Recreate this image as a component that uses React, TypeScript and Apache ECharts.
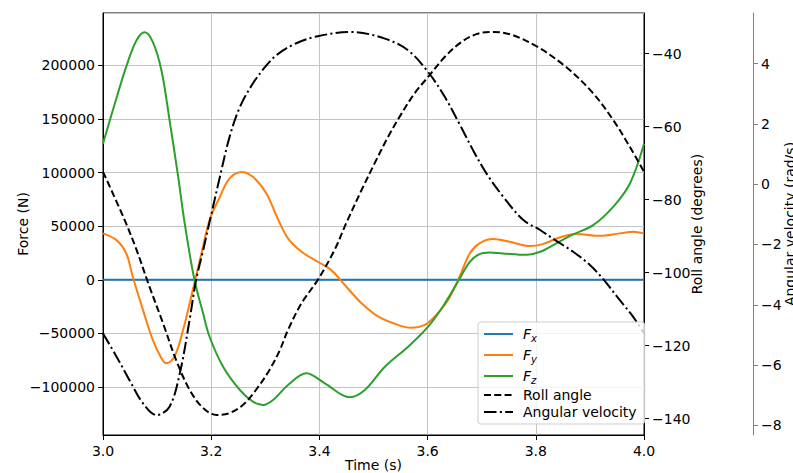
import React, { useEffect, useRef } from "react";
import * as echarts from "echarts";

// ---- Data ----
const fxTime = [3.0, 4.0];
const fxValues = [0, 0];

const fyTime = [3.0, 3.025, 3.043, 3.055, 3.074, 3.092, 3.108, 3.117, 3.132, 3.148, 3.166, 3.182, 3.197, 3.216, 3.234, 3.256, 3.277, 3.302, 3.322, 3.342, 3.367, 3.397, 3.422, 3.447, 3.478, 3.509, 3.546, 3.57, 3.594, 3.613, 3.638, 3.659, 3.678, 3.696, 3.721, 3.752, 3.789, 3.813, 3.844, 3.875, 3.918, 3.955, 3.98, 4.0];
const fyValues = [43300, 37000, 24600, 2800, -28300, -56200, -73300, -78000, -71800, -46900, -9600, 24600, 55700, 77400, 94600, 100700, 96100, 80600, 58000, 38600, 26100, 16800, 9000, -4900, -22000, -34500, -42300, -44800, -42300, -34500, -18900, 2800, 24600, 34000, 38000, 35400, 31400, 33300, 39500, 42600, 41000, 43300, 44800, 43300];

const fzTime = [3.0, 3.018, 3.043, 3.062, 3.077, 3.092, 3.108, 3.123, 3.139, 3.151, 3.169, 3.185, 3.197, 3.222, 3.253, 3.277, 3.296, 3.316, 3.342, 3.376, 3.41, 3.456, 3.484, 3.521, 3.564, 3.601, 3.632, 3.658, 3.678, 3.696, 3.715, 3.739, 3.783, 3.808, 3.838, 3.869, 3.906, 3.943, 3.974, 4.0];
const fzValues = [127000, 158000, 199000, 223500, 231000, 222000, 195500, 149000, 96000, 52600, 0, -31300, -53200, -81200, -102900, -113800, -116900, -111500, -98200, -87300, -96600, -109700, -102900, -81200, -62500, -43800, -22000, 0, 16800, 24000, 25500, 24600, 23300, 26100, 34000, 42300, 51000, 68100, 89900, 127000];

const rollTime = [3.0, 3.04, 3.062, 3.086, 3.111, 3.135, 3.16, 3.185, 3.21, 3.234, 3.259, 3.283, 3.308, 3.327, 3.342, 3.367, 3.397, 3.428, 3.451, 3.478, 3.502, 3.527, 3.552, 3.576, 3.601, 3.632, 3.661, 3.69, 3.718, 3.752, 3.801, 3.856, 3.906, 3.943, 3.974, 4.0];
const rollValues = [-72.4, -85.6, -93.8, -103.9, -113.9, -123.9, -132.1, -137.1, -139.0, -138.5, -136.2, -132.1, -126.6, -121.2, -115.7, -108.4, -102.0, -93.8, -86.0, -77.4, -70.1, -62.8, -56.4, -50.9, -46.4, -40.9, -37.0, -34.7, -34.1, -34.7, -38.0, -43.7, -50.9, -58.2, -65.6, -72.4];

const angTime = [3.0, 3.025, 3.049, 3.074, 3.099, 3.123, 3.142, 3.16, 3.172, 3.185, 3.197, 3.216, 3.234, 3.253, 3.277, 3.302, 3.322, 3.355, 3.397, 3.459, 3.521, 3.564, 3.601, 3.632, 3.66, 3.684, 3.709, 3.74, 3.777, 3.808, 3.838, 3.869, 3.9, 3.925, 3.955, 3.98, 4.0];
const angValues = [-4.95, -5.72, -6.5, -7.27, -7.66, -7.38, -6.27, -4.51, -3.18, -2.2, -1.25, 0.24, 1.57, 2.56, 3.34, 3.94, 4.3, 4.66, 4.91, 5.05, 4.83, 4.44, 3.72, 2.89, 1.96, 1.13, 0.35, -0.42, -1.19, -1.52, -1.88, -2.24, -2.68, -3.16, -3.84, -4.4, -4.95];

const xTickLabels = ["3.0", "3.2", "3.4", "3.6", "3.8", "4.0"];
const seriesNames = ["Fx", "Fy", "Fz", "Roll angle", "Angular velocity"];

const zip = (t: number[], v: number[]) => t.map((x, i) => [x, v[i]]);
const FONT = "DejaVu Sans";
const minus = (v: number) => String(v).replace("-", "\u2212");

export default function App() {
  const ref = useRef<HTMLDivElement>(null);
  useEffect(() => {
    document.body.style.margin = "0";
    if (!ref.current) return;
    const chart = echarts.init(ref.current, undefined, { renderer: "svg" });
    const axisLabelBase = { color: "#000", fontSize: 14, fontFamily: FONT };
    const tick = { show: true, length: 5, inside: false, lineStyle: { color: "#000", width: 1 } };
    const line = (color: string, width = 1) => ({ show: true, onZero: false, lineStyle: { color, width } });
    const nameStyle = { color: "#000", fontSize: 14, fontFamily: FONT };
    const option: any = {
      animation: false,
      backgroundColor: "#fff",
      textStyle: { fontFamily: FONT },
      grid: {
        left: 103, right: 149, top: 13, bottom: 38,
        show: true, borderColor: "#000", borderWidth: 1, backgroundColor: "transparent",
        containLabel: false, outerBoundsMode: "none",
      },
      legend: {
        data: seriesNames,
        orient: "vertical",
        left: 478,
        top: 322,
        itemWidth: 29,
        itemHeight: 14,
        itemGap: 3,
        padding: [3, 8, 5, 5],
        backgroundColor: "rgba(255,255,255,0.8)",
        borderColor: "#cccccc",
        borderWidth: 1,
        borderRadius: 3,
        itemStyle: { opacity: 0 },
        formatter: (name: string) => {
          if (name.length === 2 && name[0] === "F") return `{f|F}{s|${name[1]}}`;
          return `{n|${name}}`;
        },
        textStyle: {
          color: "#000",
          fontFamily: FONT,
          fontSize: 14,
          padding: [0, 0, 0, 5],
          rich: {
            f: { fontStyle: "italic", fontSize: 14, fontFamily: FONT, color: "#000", lineHeight: 18 },
            s: { fontStyle: "italic", fontSize: 10, fontFamily: FONT, color: "#000", lineHeight: 10, padding: [8, 0, 0, 0] },
            n: { fontSize: 14, fontFamily: FONT, color: "#000", lineHeight: 18 },
          },
        },
      },
      xAxis: {
        type: "value",
        min: 3,
        max: 4,
        interval: 0.2,
        axisLine: line("#000"),
        axisTick: tick,
        axisLabel: {
          ...axisLabelBase,
          margin: 9,
          formatter: (v: number) => xTickLabels[Math.round((v - 3) / 0.2)] ?? v.toFixed(1),
        },
        splitLine: { show: true, lineStyle: { color: "#c4c4c4", width: 1 } },
        name: "Time (s)",
        nameLocation: "middle",
        nameGap: 23,
        nameMoveOverlap: false,
        nameTextStyle: nameStyle,
      },
      yAxis: [
        {
          type: "value",
          position: "left",
          min: -144900,
          max: 249000,
          splitNumber: 8,
          axisLine: line("#000"),
          axisTick: tick,
          axisLabel: { ...axisLabelBase, margin: 8, showMinLabel: false, showMaxLabel: false, formatter: minus },
          splitLine: { show: true, lineStyle: { color: "#c4c4c4", width: 1 } },
          name: "Force (N)",
          nameLocation: "middle",
          nameGap: 73,
          nameMoveOverlap: false,
          nameTextStyle: nameStyle,
        },
        {
          type: "value",
          position: "right",
          min: -144.5,
          max: -28.9,
          splitNumber: 6,
          axisLine: line("#000"),
          axisTick: tick,
          axisLabel: { ...axisLabelBase, margin: 8, showMinLabel: false, showMaxLabel: false, formatter: minus },
          splitLine: { show: false },
          name: "Roll angle (degrees)",
          nameLocation: "middle",
          nameGap: 46,
          nameMoveOverlap: false,
          nameTextStyle: nameStyle,
        },
        {
          type: "value",
          position: "right",
          offset: 109,
          min: -8.32,
          max: 5.68,
          splitNumber: 7,
          axisLine: line("#808080"),
          axisTick: { ...tick, lineStyle: { color: "#808080", width: 1 } },
          axisLabel: { ...axisLabelBase, margin: 8, showMinLabel: false, showMaxLabel: false, formatter: minus },
          splitLine: { show: false },
          name: "Angular velocity (rad/s)",
          nameLocation: "middle",
          nameGap: 30,
          nameMoveOverlap: false,
          nameTextStyle: nameStyle,
        },
      ],
      series: [
        {
          name: "Fx", type: "line", yAxisIndex: 0, data: zip(fxTime, fxValues),
          symbol: "none", lineStyle: { color: "#1f77b4", width: 2 }, itemStyle: { color: "#1f77b4" },
        },
        {
          name: "Fy", type: "line", yAxisIndex: 0, data: zip(fyTime, fyValues), smooth: 0.35,
          symbol: "none", lineStyle: { color: "#ff7f0e", width: 2 }, itemStyle: { color: "#ff7f0e" },
        },
        {
          name: "Fz", type: "line", yAxisIndex: 0, data: zip(fzTime, fzValues), smooth: 0.35,
          symbol: "none", lineStyle: { color: "#2ca02c", width: 2 }, itemStyle: { color: "#2ca02c" },
        },
        {
          name: "Roll angle", type: "line", yAxisIndex: 1, data: zip(rollTime, rollValues), smooth: 0.35,
          symbol: "none", lineStyle: { color: "#000", width: 2, type: [7, 3.3] }, itemStyle: { color: "#000" },
        },
        {
          name: "Angular velocity", type: "line", yAxisIndex: 2, data: zip(angTime, angValues), smooth: 0.35,
          symbol: "none", lineStyle: { color: "#000", width: 2, type: [12.5, 3.3, 2.1, 3.3] }, itemStyle: { color: "#000" },
        },
      ],
    };
    chart.setOption(option);
    return () => chart.dispose();
  }, []);
  return <div ref={ref} style={{ width: 793, height: 473, position: "absolute", left: 0, top: 0 }} />;
}
